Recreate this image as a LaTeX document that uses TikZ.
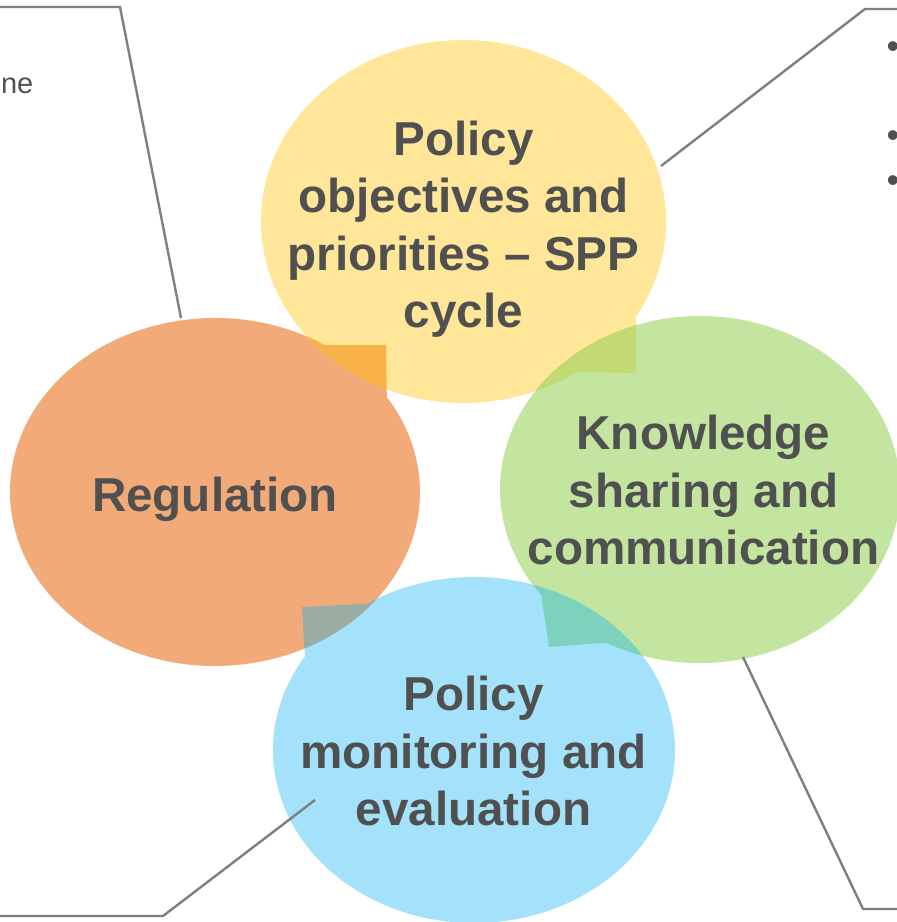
\documentclass[tikz,border=0pt]{standalone}
\usepackage{fontspec}
\setmainfont{Liberation Sans}
\usetikzlibrary{calc}
\definecolor{cOr}{HTML}{ED7D31}
\definecolor{cYe}{HTML}{FFC000}
\definecolor{cGr}{HTML}{92D050}
\definecolor{cBl}{HTML}{00B0F0}
\definecolor{txt}{HTML}{505050}
\definecolor{lineC}{HTML}{7F7F7F}
\begin{document}
\begin{tikzpicture}[x=1pt,y=1pt,
  title/.style={text=txt, align=center, inner sep=0pt,
    font=\fontsize{47.6}{57.5}\selectfont\bfseries},
  callout/.style={draw=lineC, line width=2.4pt, line join=miter},
  side/.style={text=txt, inner sep=0pt, font=\fontsize{29}{34}\selectfont},
  dot/.style={text=txt, inner sep=0pt, font=\fontsize{36}{40}\selectfont}]
\useasboundingbox (0,0) rectangle (897,922);
\clip (0,0) rectangle (897,922);

% centres
\coordinate (oc) at (215,430);
\coordinate (yc) at (463.5,700.5);
\coordinate (gc) at (700,432.5);
\coordinate (bc) at (474,172);

% Regulation (orange)
\fill[cOr, fill opacity=0.65]
  ($(oc)+(57.6:205pt and 174pt)$)
  arc[start angle=57.6, end angle=393.05, x radius=205pt, y radius=174pt]
  -- (386,577) -- cycle;
% Policy objectives (yellow)
\fill[cYe, fill opacity=0.4]
  ($(yc)+(-31.4:202.5pt and 181.5pt)$)
  arc[start angle=-31.4, end angle=304.06, x radius=202.5pt, y radius=181.5pt]
  -- (636,549) -- cycle;
% Knowledge sharing (green)
\fill[cGr, fill opacity=0.55]
  ($(gc)+(242:200pt and 173.5pt)$)
  arc[start angle=242, end angle=577.4, x radius=200pt, y radius=173.5pt]
  -- (549,275) -- cycle;
% Policy monitoring (blue)
\fill[cBl, fill opacity=0.36]
  ($(bc)+(147.28:201pt and 173pt)$)
  arc[start angle=147.28, end angle=482.24, x radius=201pt, y radius=173pt]
  -- (302,315) -- cycle;

% titles
\node[title] (tY) at (463.5,693) {Policy\\objectives and\\priorities – SPP\\cycle};
\node[title] (tO) at (215,423) {Regulation};
\node[title] (tG) at (703.5,431.6) {Knowledge\\sharing and\\communication};
\node[title] (tB) at (473.5,170.7) {Policy\\monitoring and\\evaluation};

% callout lines
\coordinate (a1) at (181,604); \coordinate (a2) at (120,915); \coordinate (a3) at (-10,915);
\coordinate (b1) at (661,756); \coordinate (b2) at (865,913); \coordinate (b3) at (910,913);
\coordinate (c1) at (315,122); \coordinate (c2) at (163,6);   \coordinate (c3) at (-10,6);
\coordinate (d1) at (743,265); \coordinate (d2) at (863,13);  \coordinate (d3) at (910,13);
\draw[callout] (a1) -- (a2) -- (a3);
\draw[callout] (b1) -- (b2) -- (b3);
\draw[callout] (c1) -- (c2) -- (c3);
\draw[callout] (d1) -- (d2) -- (d3);

% cropped callout texts
\node[side, anchor=base east] (ne) at (33.5,828.5) {ne};
\node[dot] (u1) at (893,871.5) {•};
\node[dot] (u2) at (893,783) {•};
\node[dot] (u3) at (893,738) {•};
\end{tikzpicture}
\end{document}
